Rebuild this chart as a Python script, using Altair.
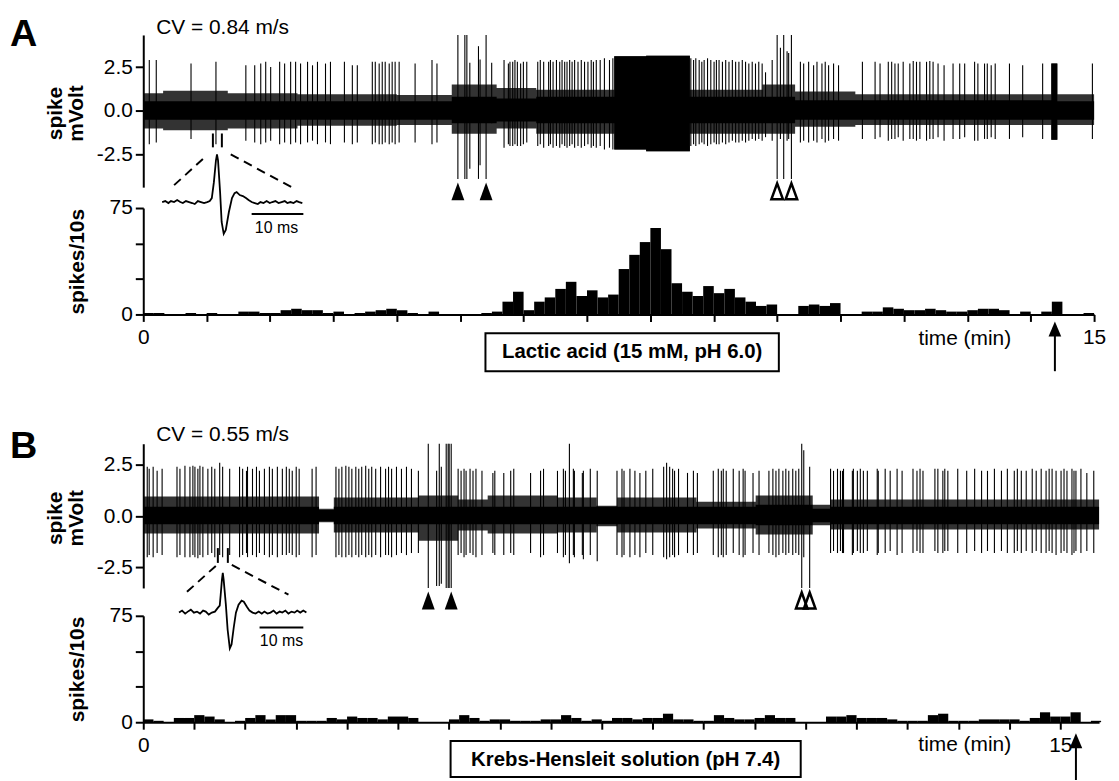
import altair as alt
import pandas as pd

FONT = "Liberation Sans"

# ---------------------------------------------------------------- panel A
A_LETTER = "A"
A_CV = "CV = 0.84 m/s"
A_BOX = "Lactic acid (15 mM, pH 6.0)"
# spikes per 10 s bin (90 bins, 0-900 s)
A_HIST = [1, 1, 0, 0, 1, 0, 1, 0, 0, 2,
          2, 1, 1, 3, 4, 3, 3, 1, 2, 0,
          1, 2, 3, 4, 3, 1, 0, 2, 0, 0,
          0, 0, 1, 2, 9, 16, 3, 9, 12, 18,
          23, 13, 17, 12, 14, 32, 42, 51, 61, 46,
          22, 16, 13, 20, 15, 18, 12, 9, 6, 7,
          0, 0, 6, 7, 6, 8, 0, 0, 2, 2,
          5, 4, 3, 3, 4, 3, 2, 2, 3, 4,
          4, 3, 0, 2, 0, 2, 9, 0, 0, 1]
# individual spikes of the raw trace: time (s), positive and negative peak (mV)
A_SPK_T = [5.7, 12.3, 45.2, 68.8, 97.1, 105.5, 111.2, 115.9, 120.6, 129.1, 133.8, 139.5, 144.2, 148.9, 155.5,
           160.2, 164.9, 172.5, 177.2, 190.4, 197.9, 202.6, 216.8, 219.6, 223.3, 226.2, 229.0, 232.8, 235.6, 238.4,
           242.2, 257.3, 273.3, 278.0,
           297.8, 304.4, 306.3, 309.1, 317.3, 318.8, 324.5, 329.8,
           341.5, 345.6, 347.1, 349.7, 351.8, 354.1, 357.2, 359.8, 363.0,
           373.4, 375.8, 379.0, 383.7, 385.4, 387.9, 391.1, 394.2, 396.4, 398.9, 401.1, 403.6, 405.9, 408.3, 411.5,
           414.6, 417.7, 420.9, 424.0, 426.1, 428.8, 432.5, 436.5, 441.3, 444.5,
           518.3, 520.9, 523.0, 526.2, 528.7, 530.9, 534.1, 537.2, 540.3, 542.5, 545.0, 548.2, 551.3, 554.4, 557.6,
           560.7, 563.8, 567.0, 570.1, 573.2, 576.4, 579.5, 582.6, 585.8,
           589.0, 595.3, 600.0, 603.1, 606.2, 609.4, 610.9, 613.5,
           622.0, 625.1, 629.8, 634.5, 637.7, 642.4, 645.5, 648.7, 653.4, 658.1,
           680.7, 692.7, 697.4, 705.2, 708.4, 711.5, 714.6, 719.3, 725.6, 728.8, 731.9, 735.1, 741.4, 744.5, 747.6,
           752.3, 758.0, 766.5, 772.8, 777.5, 786.9, 790.0, 796.3, 798.9, 802.6, 806.4, 819.9, 832.4, 851.3, 898.4]
A_SPK_TOP = [2.9, 2.9, 2.7, 2.8, 2.6, 2.6, 2.7, 2.8, 2.5, 2.8, 2.7, 2.8, 2.8, 2.7, 2.8,
             2.6, 2.8, 2.7, 2.8, 2.8, 2.6, 2.6, 2.8, 2.8, 2.7, 2.8, 2.8, 2.7, 2.8, 2.8,
             2.8, 2.7, 2.9, 2.7,
             4.33, 4.33, 4.33, 2.74, 3.69, 2.93, 4.33, 2.74,
             2.9, 2.7, 2.8, 2.8, 2.9, 2.8, 2.7, 2.8, 2.8,
             2.8, 2.9, 2.8, 2.8, 2.9, 2.8, 2.9, 2.8, 2.9, 2.8, 2.8, 2.9, 2.8, 2.9, 2.8,
             2.9, 2.8, 2.8, 2.9, 2.8, 2.9, 2.9, 3.0, 2.9, 3.0,
             3.0, 2.9, 3.0, 2.9, 2.8, 2.9, 3.0, 2.9, 2.8, 2.9, 2.9, 2.8, 2.9, 2.8, 2.9,
             2.8, 2.8, 2.9, 2.8, 2.7, 2.8, 2.7, 2.8, 2.7,
             2.2, 2.9, 4.33, 3.6, 4.33, 3.4, 3.3, 4.33,
             2.8, 2.7, 2.8, 2.6, 2.8, 2.7, 2.8, 2.6, 2.7, 2.6,
             2.8, 2.8, 2.7, 2.8, 2.8, 2.7, 2.7, 2.8, 2.7, 2.85, 2.8, 2.8, 2.8, 2.85, 2.8,
             2.7, 2.6, 2.7, 2.7, 2.7, 2.8, 2.7, 2.7, 2.7, 2.6, 2.7, 2.7, 2.6, 2.7, 2.7]
A_SPK_BOT = [-1.9, -1.8, -1.6, -1.9, -1.7, -1.8, -1.9, -1.8, -1.7, -1.9, -1.8, -1.9, -1.8, -1.9, -1.8,
             -1.7, -1.9, -1.8, -1.9, -1.8, -1.9, -1.8, -1.9, -1.8, -1.9, -1.9, -1.8, -1.9, -1.8, -1.9,
             -1.8, -1.8, -1.9, -1.8,
             -3.88, -3.88, -3.88, -3.3, -3.88, -3.1, -3.88, -0.7,
             -2.1, -1.9, -2.0, -2.0, -1.9, -2.0, -2.0, -1.9, -1.8,
             -2.0, -1.9, -2.1, -2.0, -1.9, -2.1, -2.0, -2.1, -1.9, -2.0, -2.1, -2.0, -1.9, -2.1, -2.0,
             -2.1, -2.0, -1.9, -2.1, -2.0, -2.1, -2.0, -2.2, -2.1, -2.2,
             -2.0, -1.9, -2.0, -1.9, -1.8, -1.9, -2.0, -1.9, -1.8, -1.9, -1.9, -1.8, -1.9, -1.8, -1.7,
             -1.8, -1.8, -1.7, -1.8, -1.7, -1.6, -1.7, -1.6, -1.7,
             -1.5, -1.7, -3.88, -1.6, -3.88, -1.7, -1.6, -3.88,
             -1.8, -1.7, -1.8, -1.7, -1.8, -1.6, -1.8, -1.7, -1.6, -1.7,
             -1.6, -1.6, -1.5, -1.7, -1.6, -1.6, -1.5, -1.7, -1.6, -1.6, -1.7, -1.6, -1.7, -1.6, -1.6,
             -1.5, -1.7, -1.6, -1.6, -1.5, -1.7, -1.7, -1.6, -1.6, -1.5, -1.6, -1.6, -1.5, -1.6, -1.6]
# noise band envelope (step segments): start time (s), upper, lower (mV)
A_BAND_T = [0, 18.8, 80, 146, 240, 292, 334.5, 372, 445.8, 476, 517.4, 586, 617, 674, 859.5, 865.2, 900]
A_BAND_UP = [1.0, 1.15, 1.0, 0.95, 0.9, 1.5, 1.3, 1.2, 3.12, 3.15, 1.2, 1.5, 1.1, 0.95, 2.7, 0.95, 0.95]
A_BAND_LO = [-1.0, -1.1, -1.0, -0.85, -0.8, -1.3, -1.0, -1.3, -2.2, -2.3, -1.3, -1.3, -0.9, -0.8, -1.65, -0.8, -0.8]
A_CORE_T = [0, 292, 334.5, 372, 445.8, 476, 517.4, 617, 859.5, 865.2, 900]
A_CORE_UP = [0.55, 0.8, 0.7, 0.8, 3.12, 3.15, 0.8, 0.6, 2.7, 0.55, 0.55]
A_CORE_LO = [-0.5, -0.7, -0.6, -0.7, -2.2, -2.3, -0.7, -0.5, -1.65, -0.5, -0.5]
# averaged spike waveform of the inset (ms, relative amplitude)
A_INSET_MS = [0, 0.6, 1.2, 1.7, 2.3, 2.9, 3.5, 4.0, 4.6, 5.2, 5.8, 6.3, 6.9, 7.5, 8.1, 8.7, 9.2, 9.6, 10.0, 10.4,
              10.6, 10.8, 11.2, 11.5, 11.9, 12.3, 12.9, 13.5, 14.0, 14.4, 15.0, 15.6, 16.2, 16.7, 17.3, 17.9, 18.5,
              19.0, 19.6, 20.2, 20.8, 21.3, 21.9, 22.5, 23.1, 23.7, 24.2, 24.8, 25.4, 26.0, 26.5, 27.1]
A_INSET_V = [0, 1, -1, 1, 0, 2, 0, -1, 1, 0, -1, -2, 1, 0, -1, 0, 1, 4, 20, 42,
             48, 42, 10, -20, -32, -28, -10, 4, 9, 10, 7, 6, 4, 2, 0, -1, -2,
             0, -1, 1, -1, 0, 1, -1, 0, 1, -1, 0, -1, 1, 0, -1]
A_HEADS_FILLED = [297.8, 324.5]
A_HEADS_OPEN = [600.0, 613.5]
A_MARK_T = [65.9, 74.4]

# ---------------------------------------------------------------- panel B
B_LETTER = "B"
B_CV = "CV = 0.55 m/s"
B_BOX = "Krebs-Hensleit solution (pH 7.4)"
B_HIST = [2, 1, 0, 3, 3, 5, 4, 2, 0, 1,
          3, 5, 2, 5, 5, 1, 1, 1, 3, 2,
          4, 3, 3, 2, 4, 4, 3, 0, 0, 0,
          2, 5, 3, 1, 2, 2, 1, 1, 1, 2,
          2, 5, 3, 1, 2, 1, 3, 3, 2, 3,
          3, 6, 2, 2, 1, 1, 5, 3, 2, 2,
          3, 5, 3, 3, 0, 0, 0, 4, 4, 5,
          3, 3, 3, 2, 1, 1, 1, 5, 6, 1,
          1, 1, 2, 2, 2, 2, 1, 3, 7, 4,
          4, 7, 0, 1]
B_SPK_T = [3.9, 5.8, 9.7, 13.6, 18.5, 33.1, 36.0, 40.9, 45.8, 48.7, 50.7, 53.6, 55.6, 58.5, 63.4, 67.2, 70.2,
           75.0, 77.9, 84.8, 94.5, 97.5, 101.3, 102.3, 107.2, 111.1, 114.0, 118.9, 123.8, 126.7, 131.6, 136.5,
           140.4, 143.3, 146.2, 150.1, 153.0, 165.7, 169.6,
           189.1, 192.0, 194.9, 198.8, 201.8, 204.7, 208.6, 211.5, 214.4, 218.3, 221.3, 224.2, 228.1, 232.9,
           237.8, 240.7, 243.7, 248.5, 253.4, 258.3, 263.2, 270.0,
           279.7, 287.9, 290.5, 292.5, 297.3, 299.2, 300.2, 302.2,
           309.0, 311.9, 314.8, 316.8, 320.7, 323.6, 326.5, 332.4, 343.1, 345.0,
           353.8, 360.6, 363.6, 380.1, 389.9, 392.8, 406.5, 412.3, 414.3, 418.2,
           422.1, 423.1, 430.9, 431.9, 438.7, 445.5, 464.9, 469.8, 471.8, 477.6,
           482.5, 487.4, 493.2, 500.0, 510.7, 513.6, 516.6, 519.5, 521.4, 525.3,
           534.1, 539.9, 543.8, 559.4, 564.3, 567.3, 569.2, 572.1, 579.0, 584.8,
           588.7, 590.6, 598.4, 604.3, 614.0, 617.9, 620.9, 623.8, 627.7, 630.6,
           633.5, 637.4, 640.4, 643.3, 646.2, 648.2, 654.0,
           674.5, 677.4, 681.3, 684.2, 686.2, 687.2, 695.9, 696.9, 700.8, 703.7,
           706.7, 710.6, 720.3, 721.3, 728.1, 733.0, 739.8, 744.7, 755.4, 759.3,
           762.3, 765.2, 776.9, 779.8, 784.7, 786.6, 789.6, 799.3, 808.1, 815.9,
           822.7, 828.5, 835.3, 842.2, 848.0, 854.8, 857.8, 861.7, 866.5, 872.4,
           876.3, 881.2, 886.0, 889.0, 891.9, 895.8, 900.7, 903.6, 906.5, 911.4,
           913.4, 915.3, 920.2, 926.0, 932.8]
B_SPK_TOP = [2.4, 2.3, 2.4, 2.2, 2.3, 2.4, 2.3, 2.45, 2.4, 2.45, 2.4, 2.3, 2.45, 2.4, 2.3, 2.4, 2.3,
             2.6, 2.4, 2.3, 2.4, 2.3, 2.2, 2.4, 2.3, 2.4, 2.2, 2.3, 2.4, 2.3, 2.4, 2.3,
             2.4, 2.3, 2.2, 2.4, 2.3, 2.3, 2.4,
             2.4, 2.3, 2.4, 2.45, 2.4, 2.3, 2.4, 2.3, 2.4, 2.45, 2.3, 2.4, 2.3, 2.4,
             2.3, 2.4, 2.3, 2.4, 2.3, 2.4, 2.3, 2.2,
             3.52, 2.2, 3.52, 2.4, 3.52, 3.52, 3.52, 3.52,
             2.3, 2.2, 2.3, 2.2, 2.3, 2.2, 2.3, 2.2, 2.1, 2.2,
             2.1, 2.2, 2.3, 2.1, 2.2, 2.3, 2.2, 2.3, 2.2, 3.52,
             2.3, 2.2, 2.1, 2.2, 2.3, 2.2, 2.2, 2.3, 2.2, 2.3,
             2.2, 2.1, 2.2, 2.3, 2.4, 2.6, 2.4, 2.3, 2.2, 2.3,
             2.1, 2.2, 2.1, 2.2, 2.3, 2.2, 2.3, 2.2, 2.3, 2.2,
             2.3, 2.2, 2.1, 2.2, 2.2, 2.3, 2.2, 2.3, 2.2, 2.3,
             2.2, 2.3, 2.2, 2.3, 3.52, 3.2, 2.4,
             2.3, 2.2, 2.3, 2.2, 2.2, 2.3, 2.2, 2.3, 2.2, 2.3,
             2.2, 2.2, 2.3, 2.2, 2.3, 2.2, 2.3, 2.2, 2.3, 2.2,
             2.3, 2.2, 2.3, 2.3, 2.2, 2.3, 2.2, 2.3, 2.2, 2.3,
             2.2, 2.2, 2.3, 2.2, 2.3, 2.2, 2.3, 2.2, 2.2, 2.3,
             2.2, 2.3, 2.2, 2.3, 2.3, 2.2, 2.2, 2.3, 2.2, 2.3,
             2.2, 2.2, 2.3, 2.1, 2.2]
B_SPK_BOT = [-2.0, -1.9, -2.0, -1.8, -1.9, -2.0, -1.9, -2.0, -2.0, -1.9, -2.0, -2.05, -1.9, -2.0, -1.9, -1.8, -2.0,
             -1.9, -2.0, -1.9, -2.0, -1.9, -1.8, -2.0, -1.9, -2.0, -1.8, -1.9, -2.0, -1.9, -2.0, -1.9,
             -1.9, -1.8, -1.9, -2.0, -1.9, -2.0, -1.9,
             -2.0, -1.9, -2.0, -2.0, -1.9, -2.0, -1.9, -2.0, -1.9, -2.0, -1.9, -2.0, -1.9, -2.0,
             -1.9, -1.9, -2.0, -1.9, -1.8, -1.9, -1.8, -1.8,
             -3.5, -3.4, -3.4, -3.3, -3.5, -3.5, -3.5, -3.5,
             -1.9, -1.8, -2.0, -1.9, -1.8, -1.9, -2.0, -1.9, -1.8, -1.9,
             -1.9, -1.8, -1.9, -1.8, -2.0, -1.9, -1.8, -2.0, -1.9, -2.3,
             -1.9, -2.0, -1.9, -2.1, -1.9, -2.2, -1.9, -2.0, -1.9, -2.0,
             -1.9, -2.0, -1.8, -1.9, -2.0, -2.1, -2.0, -1.9, -2.0, -1.9,
             -1.8, -1.9, -1.8, -1.9, -2.0, -1.9, -2.0, -1.9, -1.8, -1.9,
             -2.0, -1.9, -1.8, -1.9, -1.8, -1.9, -2.0, -1.9, -1.8, -1.9,
             -1.8, -1.9, -1.8, -1.9, -3.5, -2.0, -3.5,
             -1.8, -1.7, -1.8, -1.7, -1.8, -1.8, -1.9, -1.8, -1.7, -1.8,
             -1.8, -1.7, -1.9, -1.8, -1.8, -1.7, -1.9, -1.8, -1.8, -1.7,
             -1.8, -1.8, -1.7, -1.8, -1.8, -1.7, -1.7, -1.8, -1.8, -1.7,
             -1.8, -1.7, -1.8, -1.7, -1.8, -1.8, -1.7, -1.8, -1.7, -1.8,
             -1.7, -1.8, -1.8, -1.7, -1.8, -1.9, -1.8, -1.7, -1.8, -1.9,
             -1.8, -1.7, -1.8, -1.7, -1.8]
B_BAND_T = [0, 172.5, 187, 270, 309, 338, 406, 445, 465, 543, 601, 657, 674, 938]
B_BAND_UP = [0.95, 0.35, 0.9, 1.0, 0.8, 1.0, 0.9, 0.5, 0.9, 0.7, 1.0, 0.55, 0.8, 0.8]
B_BAND_LO = [-0.85, -0.3, -0.8, -1.2, -0.7, -0.85, -0.8, -0.5, -0.8, -0.6, -0.9, -0.45, -0.65, -0.65]
B_CORE_T = [0, 172.5, 187, 601, 657, 674, 938]
B_CORE_UP = [0.45, 0.3, 0.45, 0.55, 0.35, 0.45, 0.45]
B_CORE_LO = [-0.4, -0.25, -0.4, -0.45, -0.3, -0.4, -0.4]
B_INSET_MS = [0, 0.7, 1.4, 2.0, 2.7, 3.4, 4.1, 4.8, 5.5, 6.1, 6.8, 7.5, 8.2, 8.9, 9.3, 9.5, 9.8, 10.0, 10.2, 10.7,
              11.1, 11.6, 12.0, 12.5, 13.0, 13.6, 14.3, 14.8, 15.5, 16.1, 16.8, 17.5, 18.2, 18.9, 19.5, 20.2,
              20.9, 21.6, 22.3, 23.0, 23.6, 24.3, 25.0, 25.7, 26.4, 27.0, 27.7, 28.4, 29.1]
B_INSET_V = [0, 2, -1, 1, 3, 0, 1, -1, 2, 1, -2, 0, 1, 5, 7, 17, 33, 40, 33, 8,
             -17, -36, -32, -15, 0, 8, 12, 11, 6, 2, 0, -1, 1, -1, 1, -1,
             0, 2, -1, 1, 0, 2, -1, 1, 0, 2, 0, 2, 0]
B_HEADS_FILLED = [279.7, 302.2]
B_HEADS_OPEN = [646.2, 654.0]
B_MARK_T = [73.2, 83.0]

# ------------------------------------------------------------ layout params
TRI = "M0,-1L0.72,1L-0.72,1Z"
HEAD = "M0,-1L0.85,1L-0.85,1Z"

CFG_A = dict(
    letter=A_LETTER, cv=A_CV, box=A_BOX, hist=A_HIST,
    spk=(A_SPK_T, A_SPK_TOP, A_SPK_BOT),
    band=(A_BAND_T, A_BAND_UP, A_BAND_LO), core=(A_CORE_T, A_CORE_UP, A_CORE_LO),
    inset=(A_INSET_MS, A_INSET_V), heads=(A_HEADS_FILLED, A_HEADS_OPEN), marks=A_MARK_T,
    width=956, height=281, tmax=900, ticks=list(range(0, 901, 60)),
    mv_dom=[-4.35, 4.33], mv_rng=[153, 0], h_rng=[281, 174],
    inset_map=dict(t0=17.9, s_per_ms=4.895, v0=-5.2, mv_per_unit=1 / 17.63),
    mark_v=(-1.29, -2.08),
    dash=[(29.2, -4.235, 60.3, -2.54), (82.8, -2.48, 140.3, -4.35)],
    bar_ms=(17.3, 27.3), bar_v=-12, bar_txt=(22.1, -26),
    head_v=-4.59,
    box_t=(323.9, 601.6), box_v=(-13.3, -40.0), box_txt_v=-26.6,
    arrow_t=862.9, arrow_head_v=-10.2, arrow_v=(-12, -40.0),
    time_t=777.6, time_v=-21.7,
    letter_y=11, cv_y=-1,
)
CFG_B = dict(
    letter=B_LETTER, cv=B_CV, box=B_BOX, hist=B_HIST,
    spk=(B_SPK_T, B_SPK_TOP, B_SPK_BOT),
    band=(B_BAND_T, B_BAND_UP, B_BAND_LO), core=(B_CORE_T, B_CORE_UP, B_CORE_LO),
    inset=(B_INSET_MS, B_INSET_V), heads=(B_HEADS_FILLED, B_HEADS_OPEN), marks=B_MARK_T,
    width=961, height=280, tmax=938, ticks=list(range(0, 901, 50)),
    mv_dom=[-3.5, 3.52], mv_rng=[145, 0], h_rng=[280, 173],
    inset_map=dict(t0=35.1, s_per_ms=4.295, v0=-4.70, mv_per_unit=1 / 20.68),
    mark_v=(-1.56, -2.28),
    dash=[(42.9, -3.69, 72.2, -2.38), (86.9, -2.38, 142.5, -3.83)],
    bar_ms=(18.4, 28.4), bar_v=-15, bar_txt=(23.4, -29),
    head_v=-4.11,
    box_t=(301.6, 645.2), box_v=(-13.3, -38.6), box_txt_v=-26.6,
    arrow_t=915.3, arrow_head_v=-13.1, arrow_v=(-15, -40.7),
    time_t=806.2, time_v=-20.3,
    letter_y=14, cv_y=-3,
)


def panel(c):
    xs = alt.Scale(domain=[0, c["tmax"]], nice=False, zero=False)
    xax = alt.Axis(orient="bottom", values=c["ticks"], title=None,
                   labelExpr="datum.value == 0 ? '0' : (datum.value == 900 ? '15' : '')",
                   tickSize=7, tickWidth=2, domainWidth=2, labelFontSize=21, labelPadding=5,
                   labelFlush=False, labelOverlap=False, grid=False)
    ys = alt.Scale(domain=c["mv_dom"], range=c["mv_rng"], nice=False, zero=False)
    yax = alt.Axis(orient="left", values=[-2.5, 0, 2.5], title=["spike", "mVolt"],
                   labelExpr="datum.value < 0 ? '-' + format(-datum.value, '.1f') : format(datum.value, '.1f')",
                   tickSize=8, tickWidth=2, domainWidth=2, labelFontSize=21, labelPadding=3, grid=False,
                   titleFontSize=21, titleFontWeight="bold", titleAngle=-90, titleAlign="center",
                   titleBaseline="alphabetic", titleX=-82, titleY=(c["mv_rng"][0]) / 2 + 2,
                   titleLineHeight=21)
    hs = alt.Scale(domain=[0, 75], range=c["h_rng"], nice=False, zero=False)
    hax = alt.Axis(orient="left", values=[0, 25, 50, 75], title="spikes/10s",
                   labelExpr="(datum.value == 0 || datum.value == 75) ? datum.label : ''",
                   tickSize=8, tickWidth=2, domainWidth=2, labelFontSize=21, labelPadding=3, grid=False,
                   titleFontSize=21, titleFontWeight="bold", titleAngle=-90, titleAlign="center",
                   titleBaseline="alphabetic", titleX=-60, titleY=(c["h_rng"][0] + c["h_rng"][1]) / 2)

    def X(f):
        return alt.X(f, type="quantitative", scale=xs, axis=xax)

    def YM(f):
        return alt.Y(f, type="quantitative", scale=ys, axis=yax)

    def YH(f):
        return alt.Y(f, type="quantitative", scale=hs, axis=hax)

    band = pd.DataFrame(list(zip(*c["band"])), columns=["t", "up", "lo"])
    core = pd.DataFrame(list(zip(*c["core"])), columns=["t", "up", "lo"])
    spk = pd.DataFrame(list(zip(*c["spk"])), columns=["t", "top", "bot"])
    m = c["inset_map"]
    ins = pd.DataFrame({"ms": c["inset"][0], "v": c["inset"][1]})
    ins["i"] = range(len(ins))
    ins["t"] = m["t0"] + ins["ms"] * m["s_per_ms"]
    ins["mv"] = m["v0"] + ins["v"] * m["mv_per_unit"]
    bar = pd.DataFrame({"t1": [m["t0"] + c["bar_ms"][0] * m["s_per_ms"]],
                        "t2": [m["t0"] + c["bar_ms"][1] * m["s_per_ms"]],
                        "mv": [m["v0"] + c["bar_v"] * m["mv_per_unit"]]})
    bar_txt = pd.DataFrame({"t": [m["t0"] + c["bar_txt"][0] * m["s_per_ms"]],
                            "mv": [m["v0"] + c["bar_txt"][1] * m["mv_per_unit"]],
                            "s": ["10 ms"]})
    marks = pd.DataFrame({"t": c["marks"], "v1": [c["mark_v"][0]] * 2, "v2": [c["mark_v"][1]] * 2})
    dash = pd.DataFrame(c["dash"], columns=["t1", "v1", "t2", "v2"])
    hf = pd.DataFrame({"t": c["heads"][0], "v": [c["head_v"]] * len(c["heads"][0])})
    ho = pd.DataFrame({"t": c["heads"][1], "v": [c["head_v"]] * len(c["heads"][1])})
    labels = pd.DataFrame({"letter": [c["letter"]], "cv": [c["cv"]]})

    trace = alt.layer(
        alt.Chart(band).mark_area(interpolate="step-after", color="black", opacity=0.8).encode(
            x=X("t"), y=YM("up"), y2=alt.Y2("lo")),
        alt.Chart(core).mark_area(interpolate="step-after", color="black").encode(
            x=X("t"), y=YM("up"), y2=alt.Y2("lo")),
        alt.Chart(spk).mark_rule(color="black", strokeWidth=1.1).encode(
            x=X("t"), y=YM("top"), y2=alt.Y2("bot")),
        alt.Chart(marks).mark_rule(color="black", strokeWidth=2).encode(
            x=X("t"), y=YM("v1"), y2=alt.Y2("v2")),
        alt.Chart(dash).mark_rule(color="black", strokeWidth=2, strokeDash=[9, 6]).encode(
            x=X("t1"), x2=alt.X2("t2"), y=YM("v1"), y2=alt.Y2("v2")),
        alt.Chart(ins).mark_line(color="black", strokeWidth=1.8).encode(
            x=X("t"), y=YM("mv"), order="i:Q"),
        alt.Chart(bar).mark_rule(color="black", strokeWidth=2).encode(
            x=X("t1"), x2=alt.X2("t2"), y=YM("mv")),
        alt.Chart(bar_txt).mark_text(font=FONT, fontSize=16, baseline="middle", align="center").encode(
            x=X("t"), y=YM("mv"), text="s:N"),
        alt.Chart(hf).mark_point(shape=TRI, size=324, filled=True, color="black", opacity=1).encode(
            x=X("t"), y=YM("v")),
        alt.Chart(ho).mark_point(shape=TRI, size=260, filled=False, color="black", strokeWidth=2.5,
                                 opacity=1).encode(x=X("t"), y=YM("v")),
        alt.Chart(labels).mark_text(font=FONT, fontSize=38, fontWeight="bold", align="left",
                                    baseline="alphabetic").encode(
            x=alt.value(-134), y=alt.value(c["letter_y"]), text="letter:N"),
        alt.Chart(labels).mark_text(font=FONT, fontSize=21, align="left", baseline="alphabetic").encode(
            x=alt.value(13), y=alt.value(c["cv_y"]), text="cv:N"),
    )

    hist = pd.DataFrame({"n": c["hist"]})
    hist["t0"] = [i * 10 for i in range(len(hist))]
    hist["t1"] = hist["t0"] + 10
    hist["z"] = 0
    box = pd.DataFrame({"t0": [c["box_t"][0]], "t1": [c["box_t"][1]],
                        "v0": [c["box_v"][0]], "v1": [c["box_v"][1]],
                        "tc": [(c["box_t"][0] + c["box_t"][1]) / 2], "vc": [c["box_txt_v"]],
                        "s": [c["box"]]})
    arrow = pd.DataFrame({"t": [c["arrow_t"]], "v1": [c["arrow_v"][0]], "v2": [c["arrow_v"][1]],
                          "vh": [c["arrow_head_v"]]})
    tl = pd.DataFrame({"t": [c["time_t"]], "v": [c["time_v"]], "s": ["time (min)"]})

    hgroup = alt.layer(
        alt.Chart(hist).mark_rect(color="black").encode(x=X("t0"), x2=alt.X2("t1"), y=YH("n"), y2=alt.Y2("z")),
        alt.Chart(box).mark_rect(fill="white", stroke="black", strokeWidth=2).encode(
            x=X("t0"), x2=alt.X2("t1"), y=YH("v0"), y2=alt.Y2("v1")),
        alt.Chart(box).mark_text(font=FONT, fontSize=20.5, fontWeight="bold", baseline="middle").encode(
            x=X("tc"), y=YH("vc"), text="s:N"),
        alt.Chart(arrow).mark_rule(color="black", strokeWidth=2).encode(x=X("t"), y=YH("v1"), y2=alt.Y2("v2")),
        alt.Chart(arrow).mark_point(shape=HEAD, size=225, filled=True, color="black", opacity=1).encode(
            x=X("t"), y=YH("vh")),
        alt.Chart(tl).mark_text(font=FONT, fontSize=21, baseline="alphabetic", align="center").encode(
            x=X("t"), y=YH("v"), text="s:N"),
    )

    return alt.layer(trace, hgroup).resolve_scale(y="independent").properties(
        width=c["width"], height=c["height"])


chart = alt.vconcat(panel(CFG_A), panel(CFG_B), spacing=130, bounds="flush").properties(
    padding={"left": 2, "top": 6, "right": 5, "bottom": 0},
    background="white",
).configure_view(strokeWidth=0).configure_axis(
    labelFont=FONT, titleFont=FONT, labelColor="black", titleColor="black",
    domainColor="black", tickColor="black",
).configure_text(font=FONT, color="black")

chart.save("out.html", embed_options={"renderer": "svg", "actions": False})
